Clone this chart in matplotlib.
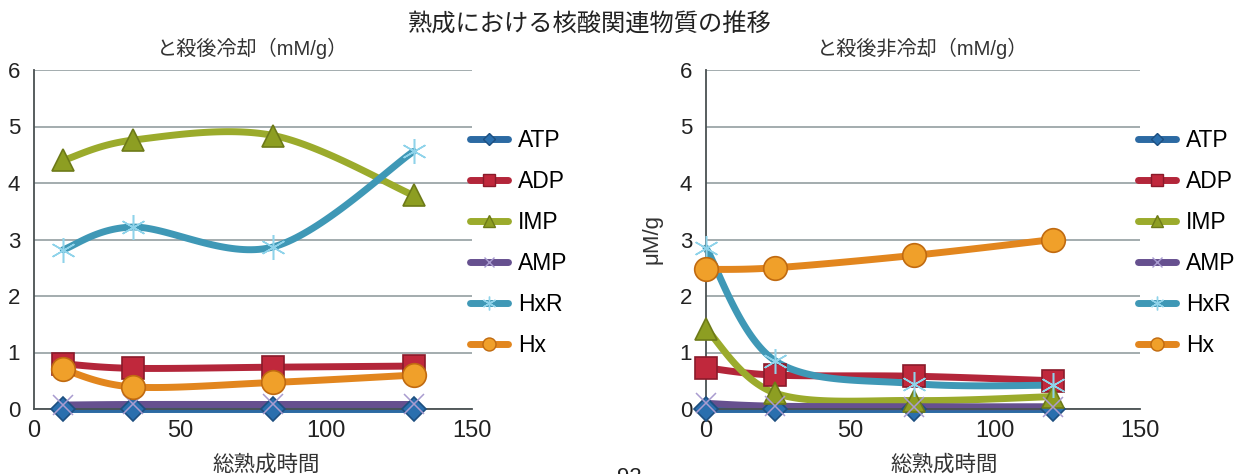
import numpy as np
import matplotlib
matplotlib.use('Agg')
import matplotlib.pyplot as plt
from matplotlib.lines import Line2D

plt.rcParams['font.family'] = ['Liberation Sans', 'Noto Sans CJK JP', 'DejaVu Sans']

# --- datos ---
series = ['ATP', 'ADP', 'IMP', 'AMP', 'HxR', 'Hx']

x_cold = [10, 34, 82, 130]
atp_cold = [0.0, 0.0, 0.0, 0.0]
adp_cold = [0.8, 0.72, 0.74, 0.76]
imp_cold = [4.4, 4.76, 4.84, 3.78]
amp_cold = [0.07, 0.08, 0.08, 0.08]
hxr_cold = [2.82, 3.22, 2.87, 4.56]
hx_cold = [0.7, 0.39, 0.47, 0.6]

x_warm = [0, 24, 72, 120]
atp_warm = [0.0, 0.0, 0.0, 0.0]
adp_warm = [0.73, 0.6, 0.58, 0.5]
imp_warm = [1.42, 0.28, 0.15, 0.22]
amp_warm = [0.1, 0.05, 0.04, 0.04]
hxr_warm = [2.85, 0.85, 0.45, 0.42]
hx_warm = [2.47, 2.5, 2.72, 3.0]

colores = {'ATP': '#2c6aa3', 'ADP': '#b3263a', 'IMP': '#9bab2c',
           'AMP': '#66508f', 'HxR': '#3f98b6', 'Hx': '#e2861e'}
marcadores = {'ATP': 'D', 'ADP': 's', 'IMP': '^', 'AMP': 'x', 'HxR': (6, 2, 0), 'Hx': 'o'}
tam = {'ATP': 12, 'ADP': 16, 'IMP': 16, 'AMP': 14, 'HxR': 18, 'Hx': 17}
cara = {'ATP': '#2a6fae', 'ADP': '#c0283c', 'IMP': '#8d9e22', 'AMP': '#9a8cc4',
        'HxR': '#86cde6', 'Hx': '#f0a02a'}
borde = {'ATP': '#1d4f80', 'ADP': '#8a1a2a', 'IMP': '#6d7a18', 'AMP': '#a99cd0',
         'HxR': '#8fd3ea', 'Hx': '#c06a10'}


def suave(ax, xs, ys, n=40):
    # curva tipo Excel (Catmull-Rom) en coordenadas de pantalla
    pts = ax.transData.transform(np.column_stack([xs, ys]))
    p = np.vstack([pts[0], pts, pts[-1]])
    out = []
    for i in range(1, len(p) - 2):
        p0, p1, p2, p3 = p[i - 1], p[i], p[i + 1], p[i + 2]
        c1 = p1 + (p2 - p0) / 6.0
        c2 = p2 - (p3 - p1) / 6.0
        t = np.linspace(0, 1, n)[:, None]
        b = ((1 - t) ** 3) * p1 + 3 * ((1 - t) ** 2) * t * c1 + 3 * (1 - t) * t ** 2 * c2 + t ** 3 * p2
        out.append(b)
    out = np.vstack(out)
    d = ax.transData.inverted().transform(out)
    return d[:, 0], d[:, 1]


fig = plt.figure(figsize=(12.36, 4.74), dpi=100)
ax1 = fig.add_axes([34 / 1236, 65 / 474, 438 / 1236, 339 / 474])
ax2 = fig.add_axes([706 / 1236, 65 / 474, 434 / 1236, 339 / 474])

datos = [
    (ax1, x_cold, [atp_cold, adp_cold, imp_cold, amp_cold, hxr_cold, hx_cold], 'と殺後冷却（mM/g）', 0.53),
    (ax2, x_warm, [atp_warm, adp_warm, imp_warm, amp_warm, hxr_warm, hx_warm], 'と殺後非冷却（mM/g）', 0.548),
]

for ax, xs, ys_all, titulo, xlab_x in datos:
    ax.set_xlim(0, 150)
    ax.set_ylim(0, 6)
    ax.set_xticks([0, 50, 100, 150])
    ax.set_yticks(range(7))
    ax.grid(axis='y', color='#8a9699', linewidth=1.1)
    ax.set_axisbelow(True)
    for s in ['top', 'right']:
        ax.spines[s].set_visible(False)
    ax.spines['left'].set_color('#4a5152')
    ax.spines['bottom'].set_color('#4a5152')
    ax.spines['left'].set_linewidth(1.3)
    ax.spines['bottom'].set_linewidth(1.3)
    ax.tick_params(length=0, colors='#222222')
    ax.tick_params(axis='x', labelsize=17, pad=8)
    ax.tick_params(axis='y', labelsize=16, pad=10)
    ax.set_title(titulo, fontsize=14.5, color='#333333', pad=11)
    ax.set_xlabel('総熟成時間', fontsize=15.5, color='#333333', labelpad=8)
    ax.xaxis.set_label_coords(xlab_x, -0.135)

    for nombre, ys in zip(series, ys_all):
        cx, cy = suave(ax, xs, ys)
        ax.plot(cx, cy, color=colores[nombre], linewidth=5, solid_capstyle='round',
                zorder=2, clip_on=False)
    for nombre, ys in zip(series, ys_all):
        ax.plot(xs, ys, linestyle='none', marker=marcadores[nombre], markersize=tam[nombre],
                markerfacecolor=cara[nombre], markeredgecolor=borde[nombre],
                markeredgewidth=1.2 if nombre not in ('AMP', 'HxR') else 1.1,
                zorder=3, clip_on=False)

    handles = [Line2D([], [], color=colores[n], linewidth=5, solid_capstyle='round',
                      marker=marcadores[n], markersize=tam[n] * 0.55,
                      markerfacecolor=cara[n], markeredgecolor=borde[n])
               for n in series]
    ax.legend(handles, series, loc='upper left', bbox_to_anchor=(0.995, 0.825),
              frameon=False, fontsize=16.5, handlelength=1.65, labelspacing=0.78,
              handletextpad=0.45, borderaxespad=0, borderpad=0)

ax2.set_ylabel('μM/g', fontsize=16, color='#333333')
ax2.yaxis.set_label_coords(-0.1, 0.5)

fig.suptitle('熟成における核酸関連物質の推移', x=0.477, y=0.972, fontsize=17.5, color='#222222')
fig.text(0.509, -0.03, '92', fontsize=16, ha='center', va='bottom', color='#222222')

fig.savefig('out.png', dpi=100)
